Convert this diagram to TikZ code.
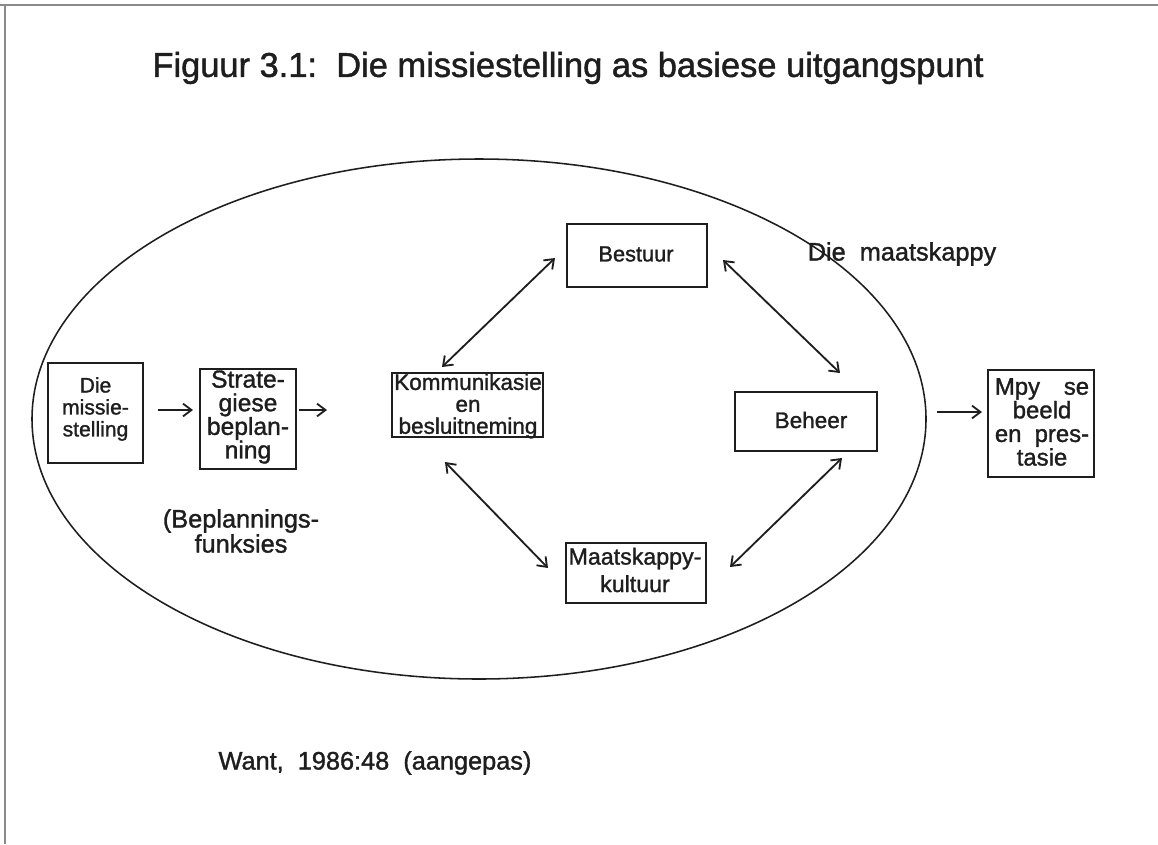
\documentclass[tikz,border=0pt]{standalone}
\usepackage{fontspec}
\setmainfont{Liberation Sans}[FakeBold=1.3]
\usetikzlibrary{arrows.meta}
\definecolor{ink}{HTML}{1E1E1E}
\definecolor{framec}{HTML}{8A8A8A}
\tikzset{
  boxnode/.style={draw=ink, line width=1.3pt, inner sep=0pt},
  txt/.style={text=ink, inner sep=0pt, align=center},
  conn/.style={draw=ink, line width=1.3pt, -{Straight Barb[length=6pt,width=9pt]}},
  dconn/.style={draw=ink, line width=1.3pt, {Straight Barb[length=6pt,width=9pt]}-{Straight Barb[length=6pt,width=9pt]}},
}
\newcommand{\fsz}[2]{\fontsize{#1}{#2}\selectfont}
\begin{document}
\begin{tikzpicture}[x=0.025cm, y=-0.025cm]
\useasboundingbox (0,0) rectangle (1158,844);
\fill[white] (0,0) rectangle (1158,844);
% frame
\draw[framec, line width=0.8pt] (0,5) -- (1158,5);
\draw[framec, line width=0.8pt] (5,5) -- (5,844);
% title
\node[txt, font={\fsz{24.5pt}{28pt}}] (title) at (568,68) {Figuur 3.1:\ \ Die missiestelling as basiese uitgangspunt};
% ellipse
\draw[ink, line width=1.1pt] (479,419) ellipse [x radius=447, y radius=260];
% boxes
\node[boxnode, minimum width=95*0.025cm, minimum height=100*0.025cm] (miss) at (95.5,413) {};
\node[boxnode, minimum width=96*0.025cm, minimum height=100*0.025cm] (strat) at (248,419) {};
\node[boxnode, minimum width=151*0.025cm, minimum height=64*0.025cm] (komm) at (467.5,405) {};
\node[boxnode, minimum width=140*0.025cm, minimum height=63*0.025cm] (best) at (637,255.5) {};
\node[boxnode, minimum width=142*0.025cm, minimum height=59*0.025cm] (beh) at (806,421.5) {};
\node[boxnode, minimum width=106*0.025cm, minimum height=107*0.025cm] (mpy) at (1041,423.5) {};
\node[boxnode, minimum width=140*0.025cm, minimum height=60*0.025cm] (maat) at (636,573) {};
% box texts
\node[txt, font={\fsz{15pt}{15.6pt}}] (misst) at (95.5,409) {Die\\missie-\\stelling};
\node[txt, font={\fsz{17.5pt}{16.8pt}}] (stratt) at (248,417) {Strate-\\giese\\beplan-\\ning};
\node[txt, font={\fsz{16pt}{15.6pt}}] (kommt) at (468,406) {Kommunikasie\\en\\besluitneming};
\node[txt, font={\fsz{15.5pt}{18pt}}] (bestt) at (636,254) {Bestuur};
\node[txt, font={\fsz{16pt}{18pt}}] (beht) at (811,420) {Beheer};
\node[txt, font={\fsz{17pt}{16.8pt}}] (mpyt) at (1042,422) {\makebox[67pt]{Mpy\hfill se}\\beeld\\\makebox[67pt]{en\hfill pres-}\\tasie};
\node[txt, font={\fsz{16.5pt}{19.5pt}}] (maatt) at (635,570) {Maatskappy-\\kultuur};
% free labels
\node[txt, font={\fsz{18pt}{20pt}}] (maatskappy) at (902,254) {Die\ \ maatskappy};
\node[txt, font={\fsz{18pt}{17.8pt}}] (beplan) at (241,531) {(Beplannings-\\funksies};
\node[txt, font={\fsz{18pt}{20pt}}] (want) at (375,763) {Want,\ \ 1986:48\ \ (aangepas)};
% connector ends
\coordinate (c1a) at (158,410); \coordinate (c1b) at (193,410);
\coordinate (c2a) at (299,410); \coordinate (c2b) at (327,410);
\coordinate (c3a) at (442,367); \coordinate (c3b) at (555,258);
\coordinate (c4a) at (723,260); \coordinate (c4b) at (840,373);
\coordinate (c5a) at (445,462); \coordinate (c5b) at (548,568);
\coordinate (c6a) at (842,458); \coordinate (c6b) at (730,567);
\coordinate (c7a) at (937,412); \coordinate (c7b) at (982,412);
\draw[conn] (c1a) -- (c1b);
\draw[conn] (c2a) -- (c2b);
\draw[dconn] (c3a) -- (c3b);
\draw[dconn] (c4a) -- (c4b);
\draw[dconn] (c5a) -- (c5b);
\draw[dconn] (c6a) -- (c6b);
\draw[conn] (c7a) -- (c7b);
\end{tikzpicture}
\end{document}
